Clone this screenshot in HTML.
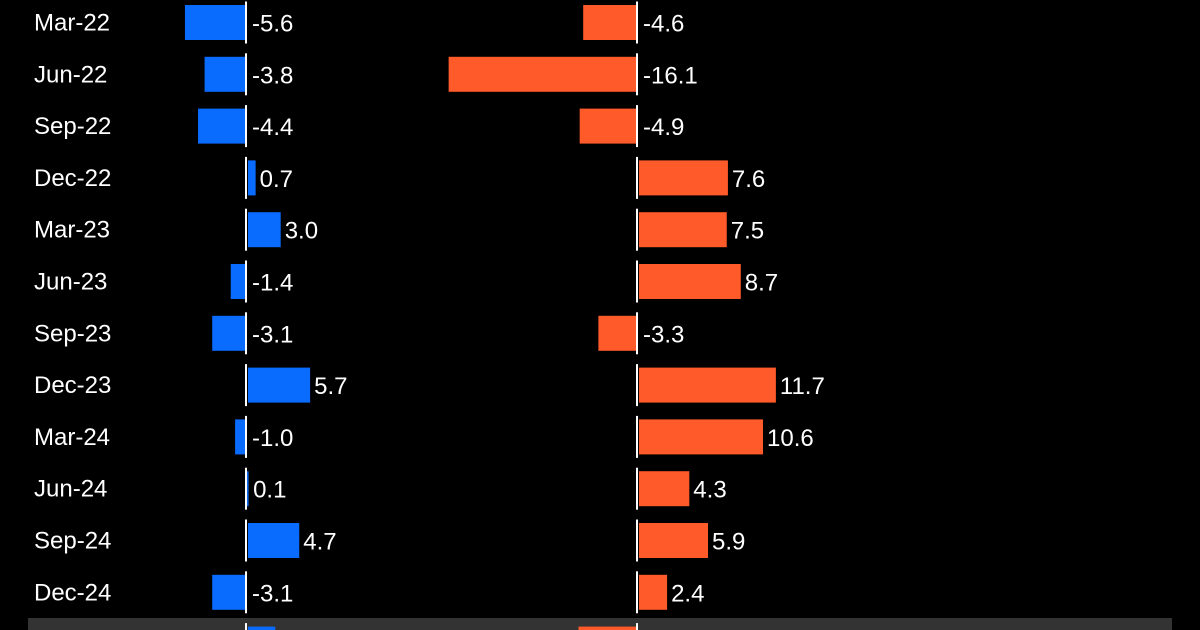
<!DOCTYPE html>
<html><head><meta charset="utf-8"><style>
html,body{margin:0;padding:0;background:#000;width:1200px;height:630px;overflow:hidden}
svg{display:block;overflow:hidden}
text{font-family:"Liberation Sans",Arial,sans-serif;fill:#fff;font-size:24px}
</style></head><body>
<svg id="chart" width="1200" height="630" viewBox="0 0 1200 630">
<defs><clipPath id="clip"><rect x="0" y="0" width="1200" height="630"/></clipPath></defs>
<rect x="28" y="618" width="1144" height="12" fill="#333"/>
<g id="g" clip-path="url(#clip)"></g>
</svg>
<script>
const categories=["Mar-22","Jun-22","Sep-22","Dec-22","Mar-23","Jun-23","Sep-23","Dec-23","Mar-24","Jun-24","Sep-24","Dec-24","Mar-25"];
const seriesA=[-5.6,-3.8,-4.4,0.7,3.0,-1.4,-3.1,5.7,-1.0,0.1,4.7,-3.1,2.5];
const seriesB=[-4.6,-16.1,-4.9,7.6,7.5,8.7,-3.3,11.7,10.6,4.3,5.9,2.4,-5.0];
const NS="http://www.w3.org/2000/svg";
const g=document.getElementById('g');
const rowY=i=>22.5+i*51.8;
const xA=v=>246+v*10.9;
const xB=v=>637+v*11.7;
function mk(tag,attrs){const e=document.createElementNS(NS,tag);for(const k in attrs)e.setAttribute(k,attrs[k]);g.appendChild(e);return e;}
function series(vals,xf,zero,color,nm){
  vals.forEach((v,i)=>{
    const cy=rowY(i);
    const x1=xf(v);
    const r=mk('rect',{x:Math.min(x1,zero+(v>=0?2:0)),y:cy-17.5,width:Math.max(Math.abs(x1-zero),1.5),height:35,fill:color});
    
    
    const l=mk('line',{x1:zero,x2:zero,y1:cy-21,y2:cy+21,stroke:'#fff','stroke-width':2});
    
    
    const tx=v>=0?x1+6:zero+6;
    const t=mk('text',{x:tx,y:cy+9});
    t.textContent=v.toFixed(1);
    
    
  });
}
categories.forEach((c,i)=>{
  const t=mk('text',{x:34,y:rowY(i)+8});
  t.textContent=c;
  
  
});
series(seriesA,xA,246,'#0a6cff','series-a');
series(seriesB,xB,637,'#ff5a2a','series-b');
</script>
</body></html>
